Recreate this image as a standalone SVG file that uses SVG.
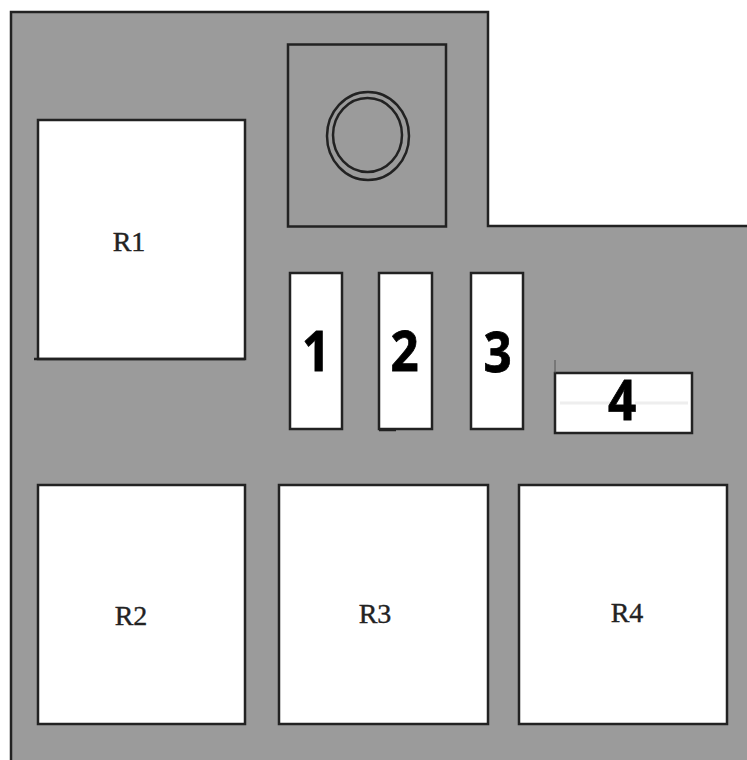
<svg xmlns="http://www.w3.org/2000/svg" width="747" height="760" viewBox="0 0 747 760">
<style>
.box{fill:#fff;stroke:#222;stroke-width:2.500}
.line{fill:none;stroke:#222;stroke-width:2.500}
.r{font-family:"Liberation Serif",serif;font-size:28px;fill:#222;stroke:#222;stroke-width:.4;text-anchor:middle}
.n{font-family:"Open Sans","Noto Sans",sans-serif;font-weight:700;font-size:56px;fill:#000;stroke:#000;stroke-width:.8;text-anchor:middle}
</style>
<rect width="747" height="760" fill="#fff"/>
<path id="housing" d="M11 760V12H488V226H747V760Z" fill="#9b9b9b"/>
<path class="line" d="M11 760V12H488V226H747"/>
<g id="socket">
<rect class="line" x="288" y="44.500" width="158" height="182"/>
<ellipse class="line" cx="368" cy="136" rx="41" ry="44"/>
<ellipse class="line" cx="367.500" cy="135" rx="34.500" ry="37"/>
</g>
<g id="R1"><rect class="box" x="38" y="120" width="207" height="239"/><path class="line" d="M34 359H245"/><text class="r" x="129" y="251">R1</text></g>
<g id="R2"><rect class="box" x="38" y="485" width="207" height="239"/><text class="r" x="131" y="625">R2</text></g>
<g id="R3"><rect class="box" x="279" y="485" width="209" height="239"/><text class="r" x="375" y="623">R3</text></g>
<g id="R4"><rect class="box" x="519" y="485" width="208" height="239"/><text class="r" x="627" y="622">R4</text></g>
<g id="fuse1"><rect class="box" x="290" y="273" width="52" height="156"/><text class="n" transform="translate(316 371) scale(.88 1)">1</text></g>
<g id="fuse2"><rect class="box" x="379" y="273" width="53" height="156"/><path class="line" d="M379 430H396"/><text class="n" transform="translate(404.500 371) scale(.88 1)">2</text></g>
<g id="fuse3"><rect class="box" x="471" y="273" width="52" height="156"/><text class="n" transform="translate(497.500 372) scale(.88 1)">3</text></g>
<g id="fuse4"><rect class="box" x="555" y="373" width="137" height="60"/><path d="M555 360V373" stroke="#555" stroke-width="1" fill="none"/><path d="M560 403H610M635 403H688" stroke="#eee" stroke-width="3" fill="none"/><text class="n" transform="translate(622 420) scale(.88 1)">4</text></g>
</svg>
